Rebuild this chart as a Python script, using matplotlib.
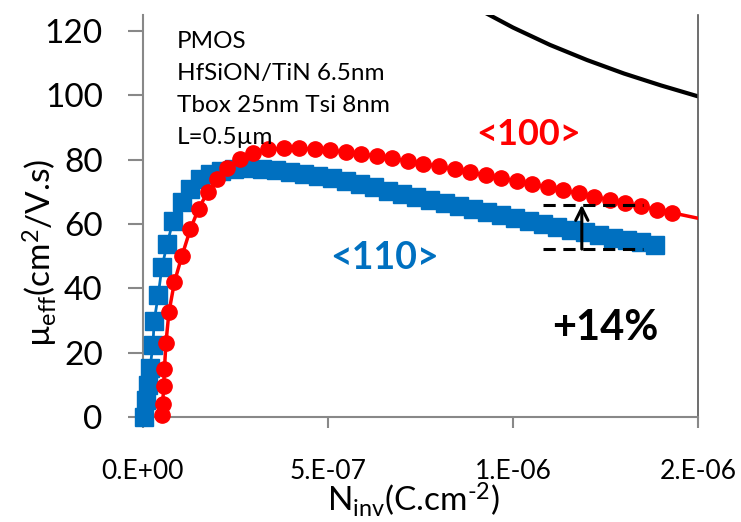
import matplotlib
matplotlib.use("Agg")
import matplotlib.pyplot as plt

plt.rcParams['font.family'] = ['Lato', 'DejaVu Sans']
plt.rcParams['mathtext.fontset'] = 'custom'
plt.rcParams['mathtext.rm'] = 'Lato'
plt.rcParams['mathtext.default'] = 'regular'

# <100> data (Ninv in C/cm^2, mobility cm^2/V.s)
ninv_100 = [0.050, 0.053, 0.056, 0.058, 0.062, 0.070, 0.085, 0.105, 0.128, 0.150,
            0.175, 0.200, 0.228, 0.262, 0.298, 0.338, 0.380, 0.422, 0.464, 0.506,
            0.548, 0.590, 0.632, 0.674, 0.716, 0.758, 0.800, 0.842, 0.884, 0.926,
            0.968, 1.010, 1.052, 1.094, 1.136, 1.178, 1.220, 1.262, 1.304, 1.346,
            1.388, 1.430]
mu_100 = [0.5, 4.0, 9.5, 15.0, 23.0, 32.5, 42.0, 50.0, 58.4, 64.7,
          70.0, 74.0, 77.5, 80.3, 82.2, 83.2, 83.5, 83.5, 83.3, 82.9,
          82.4, 81.8, 81.1, 80.4, 79.6, 78.8, 77.9, 77.0, 76.1, 75.2,
          74.3, 73.4, 72.4, 71.5, 70.5, 69.5, 68.5, 67.5, 66.5, 65.5,
          64.5, 63.5]
# fitted line continuation for <100>
ninv_100_end = [1.430, 1.500]
mu_100_end = [63.5, 61.8]

# <110> data
ninv_110 = [0.002, 0.008, 0.014, 0.019, 0.027, 0.030, 0.041, 0.051, 0.065, 0.081,
            0.105, 0.127, 0.154, 0.180, 0.210, 0.245, 0.283, 0.321, 0.359, 0.397,
            0.435, 0.473, 0.511, 0.549, 0.587, 0.625, 0.663, 0.701, 0.739, 0.777,
            0.815, 0.853, 0.891, 0.929, 0.967, 1.005, 1.043, 1.081, 1.119, 1.157,
            1.195, 1.233, 1.271, 1.309, 1.347, 1.385]
mu_110 = [0.0, 5.3, 10.0, 15.3, 22.5, 29.7, 37.8, 46.5, 53.7, 60.9,
          66.9, 70.9, 74.0, 75.6, 76.6, 77.2, 77.4, 77.2, 76.8, 76.3,
          75.7, 75.0, 74.2, 73.3, 72.4, 71.4, 70.4, 69.4, 68.5, 67.6,
          66.6, 65.6, 64.6, 63.6, 62.7, 61.8, 60.9, 60.0, 59.1, 58.2,
          57.4, 56.6, 55.8, 55.0, 54.3, 53.6]

# universal mobility reference curve
ninv_univ = [0.92, 1.00, 1.10, 1.20, 1.30, 1.40, 1.50]
mu_univ = [126.0, 121.1, 115.7, 111.0, 106.8, 103.1, 99.7]

# +14% marker
delta_x = [1.081, 1.351]
delta_top = 66.0
delta_bot = 52.2
arrow_x = 1.186

xticks = [0, 0.5e-6, 1.0e-6, 1.5e-6]
xtick_labels = ['0.E+00', '5.E-07', '1.E-06', '2.E-06']
yticks = [0, 20, 40, 60, 80, 100, 120]

s = 1e-6
fig = plt.figure(figsize=(7.41, 5.22), dpi=100)
ax = fig.add_axes([143/741, 1-417/522, (698-143)/741, (417-15)/522])

blue = '#0070C0'
red = '#FF0000'

ax.plot([v*s for v in ninv_univ], mu_univ, color='black', lw=3, zorder=2)
ax.plot([v*s for v in ninv_100_end], mu_100_end, color=red, lw=2.5, zorder=3)
ax.plot([v*s for v in ninv_110], mu_110, color=blue, lw=2, marker='s', ms=13,
        mec=blue, mfc=blue, zorder=4, clip_on=False)
ax.plot([v*s for v in ninv_100], mu_100, color=red, lw=2.5, marker='o', ms=11,
        mec=red, mfc=red, zorder=5, clip_on=False)

# delta annotation
for yv in (delta_top, delta_bot):
    ax.plot([v*s for v in delta_x], [yv, yv], color='black', lw=2.2,
            dashes=(4, 2.5), zorder=6)
ax.annotate('', xy=(arrow_x*s, delta_top), xytext=(arrow_x*s, delta_bot),
            arrowprops=dict(arrowstyle='->', color='black', lw=2.2,
                            mutation_scale=22, shrinkA=0, shrinkB=0), zorder=7)

ax.set_xlim(0, 1.5e-6)
ax.set_ylim(0, 125)
ax.set_xticks(xticks)
ax.set_xticklabels(xtick_labels)
ax.set_yticks(yticks)
ax.tick_params(axis='x', labelsize=19, length=8, width=1.5, color='#888888',
               pad=22, direction='out')
ax.tick_params(axis='y', labelsize=24, length=11, width=1.5, color='#888888',
               pad=18, direction='out')
for side in ('left', 'bottom'):
    ax.spines[side].set_color('#888888')
    ax.spines[side].set_linewidth(1.5)
ax.spines['right'].set_color('#555555')
ax.spines['right'].set_linewidth(1.2)
ax.spines['top'].set_visible(False)

# text annotations
lines = ['PMOS', 'HfSiON/TiN 6.5nm', 'Tbox 25nm Tsi 8nm', 'L=0.5µm']
for i, t in enumerate(lines):
    fig.text(177/741, 1-(48 + i*32)/522, t, fontsize=17.5, color='black',
             ha='left', va='baseline')

ax.text(1.041*s, 87.7, '<100>', color=red, fontsize=26, fontweight='bold',
        ha='center', va='center')
ax.text(0.654*s, 49.4, '<110>', color=blue, fontsize=27, fontweight='bold',
        ha='center', va='center')
ax.text(1.249*s, 27.6, '+14%', color='black', fontsize=30, fontweight='bold',
        ha='center', va='center')

fig.text(40/741, 1-253/522, 'µ$_{eff}$(cm$^{2}$/V.s)', rotation=90, fontsize=24,
         ha='center', va='center')
fig.text(413/741, 1-500/522, r'N$_{inv}$(C.cm$^{\text{-}2}$)', fontsize=24,
         ha='center', va='center')

fig.savefig('out.png', dpi=100)
